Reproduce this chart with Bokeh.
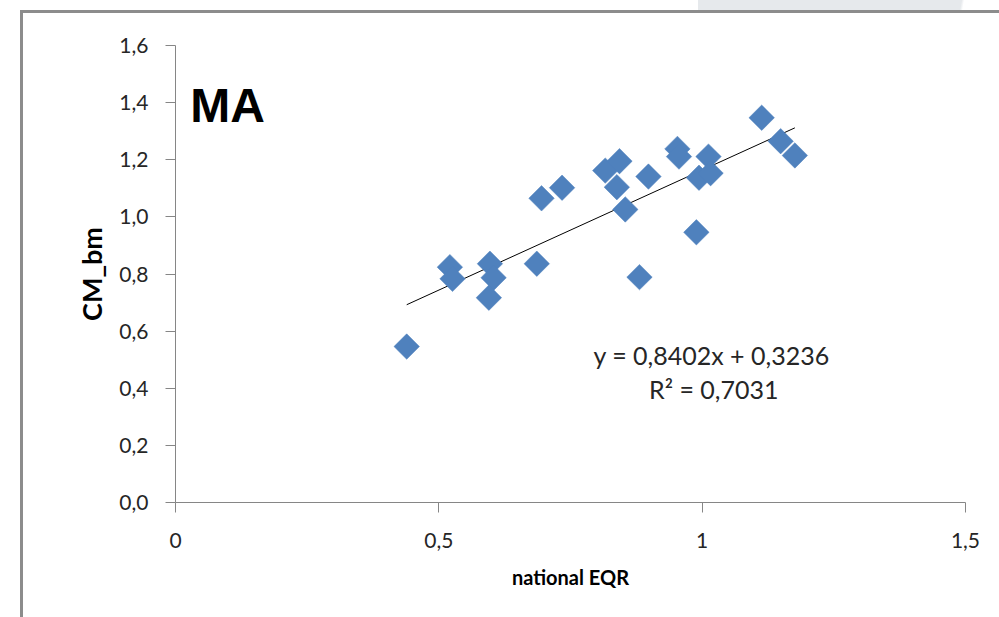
import math
from bokeh.plotting import figure
from bokeh.models import Range1d, FixedTicker, CustomJSTickFormatter, Label, ColumnDataSource
from bokeh.embed import file_html
from bokeh.resources import INLINE

# data
national_eqr = [0.439, 0.521, 0.526, 0.597, 0.604, 0.595, 0.686, 0.695, 0.734, 0.816,
                0.843, 0.838, 0.854, 0.881, 0.898, 0.953, 0.956, 0.989, 1.012, 0.994,
                1.016, 1.113, 1.149, 1.176]
cm_bm = [0.546, 0.824, 0.783, 0.836, 0.787, 0.717, 0.836, 1.065, 1.102, 1.162,
         1.195, 1.104, 1.026, 0.789, 1.141, 1.238, 1.211, 0.946, 1.211, 1.137,
         1.153, 1.347, 1.265, 1.215]
slope = 0.8402
intercept = 0.3236
r_squared = 0.7031
x_ticks = [0, 0.5, 1, 1.5]
y_ticks = [0, 0.2, 0.4, 0.6, 0.8, 1.0, 1.2, 1.4, 1.6]
panel_label = "MA"

src = ColumnDataSource(dict(x=national_eqr, y=cm_bm))

frame_css = {
    "background-color": "white",
    "background-image": ("linear-gradient(#8c8c8c, #8c8c8c), linear-gradient(#8c8c8c, #8c8c8c), "
                         "linear-gradient(100deg, #e6e9ec 0%, #e6e9ec 97%, rgba(230,233,236,0) 98%)"),
    "background-size": "3px 100%, 100% 3px, 270px 10px",
    "background-position": "20px 10px, 20px 10px, 698px 0px",
    "background-repeat": "no-repeat",
}

p = figure(width=999, height=617, output_backend="svg", toolbar_location=None,
           x_range=Range1d(0, 1.5), y_range=Range1d(0, 1.6),
           min_border_left=175, min_border_right=34, min_border_top=45, min_border_bottom=115,
           styles=frame_css)
p.outline_line_color = None
p.xgrid.visible = False
p.ygrid.visible = False
p.background_fill_color = "white"
p.border_fill_color = None

# trend line over the data's x span
x0, x1 = min(national_eqr), max(national_eqr)
trend = ColumnDataSource(dict(x=[x0, x1], y=[slope * x0 + intercept, slope * x1 + intercept]))
p.line("x", "y", source=trend, line_color="black", line_width=1)

p.scatter("x", "y", source=src, marker="square", size=18, angle=math.pi / 4,
          fill_color="#4F81BD", line_color="#4F81BD", line_width=0.5)

for ax in (p.xaxis[0], p.yaxis[0]):
    ax.axis_line_color = "#868686"
    ax.major_tick_line_color = "#868686"
    ax.major_tick_out = 10
    ax.major_tick_in = 0
    ax.minor_tick_line_color = None
    ax.major_label_text_font = "Lato"
    ax.major_label_text_font_size = "21px"
    ax.major_label_text_color = "#262626"
    ax.axis_label_text_font = "Lato"
    ax.axis_label_text_font_style = "bold"
    ax.axis_label_text_color = "black"

p.xaxis.axis_label_text_font_size = "20px"
p.yaxis.axis_label_text_font_size = "27px"
p.xaxis.ticker = FixedTicker(ticks=x_ticks)
p.yaxis.ticker = FixedTicker(ticks=y_ticks)
p.xaxis.formatter = CustomJSTickFormatter(code="return String(Math.round(tick*10)/10).replace('.', ',');")
p.yaxis.formatter = CustomJSTickFormatter(code="return tick.toFixed(1).replace('.', ',');")
p.xaxis.major_label_standoff = 20
p.yaxis.major_label_standoff = 17
p.xaxis.axis_label = "national EQR"
p.yaxis.axis_label = "CM_bm"
p.xaxis.axis_label_standoff = 14
p.yaxis.axis_label_standoff = 8

p.add_layout(Label(x=0.028, y=1.391, text=panel_label, text_font="Liberation Sans",
                   text_font_style="bold", text_font_size="48px", text_color="black",
                   text_baseline="alphabetic"))
p.add_layout(Label(x=1.018, y=0.518,
                   text="y = %sx + %s" % (str(slope).replace('.', ','), str(intercept).replace('.', ',')),
                   text_font="Lato", text_font_size="25px", text_color="#262626",
                   text_align="center", text_baseline="alphabetic"))
p.add_layout(Label(x=1.022, y=0.396, text="R² = %s" % str(r_squared).replace('.', ','),
                   text_font="Lato", text_font_size="25px", text_color="#262626",
                   text_align="center", text_baseline="alphabetic"))

open("out.html", "w").write(file_html(p, INLINE))
